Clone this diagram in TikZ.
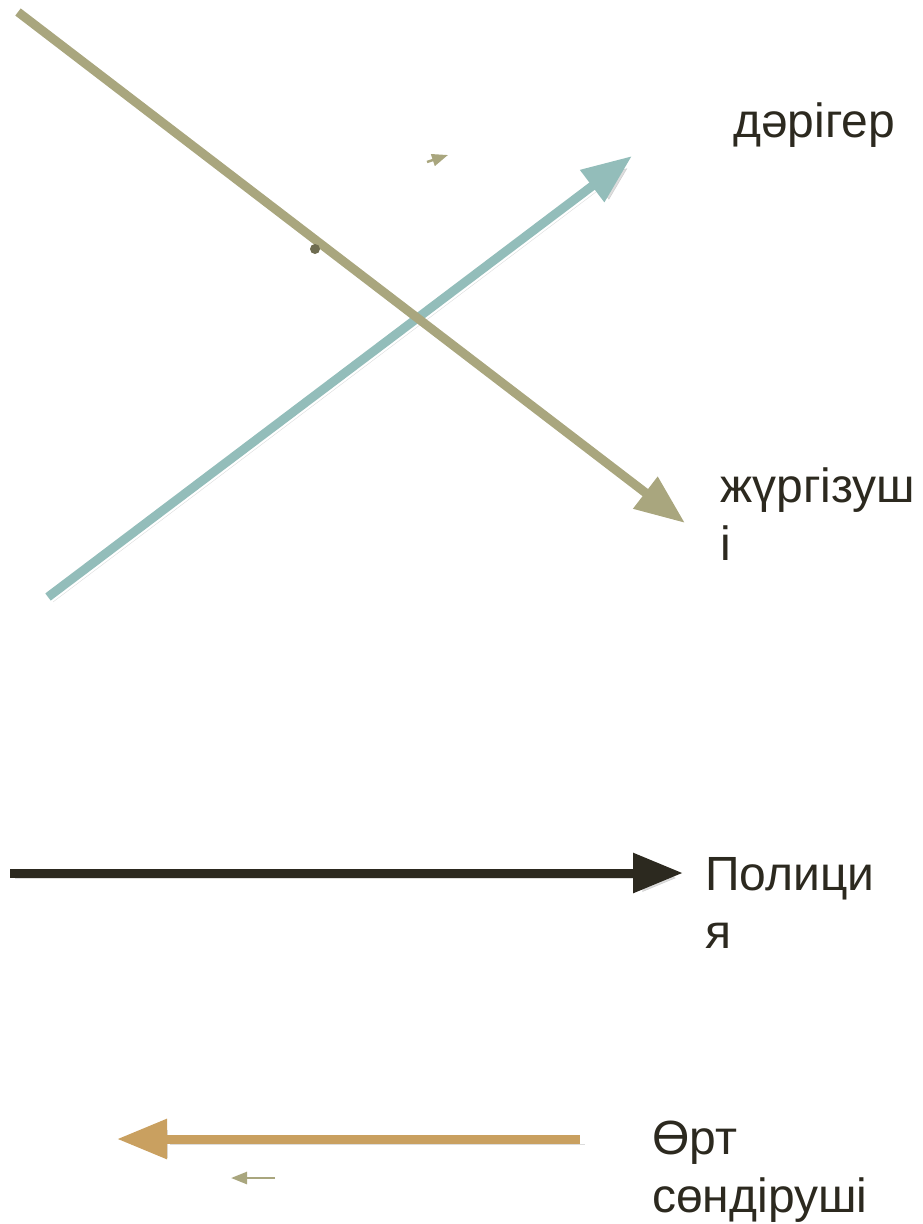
\documentclass[tikz,border=0pt]{standalone}
\usepackage{fontspec}
\setmainfont{Liberation Sans}
\usetikzlibrary{arrows.meta}
\definecolor{khakiline}{HTML}{A9A67E}
\definecolor{tealline}{HTML}{93BDBA}
\definecolor{inkdark}{HTML}{2C291F}
\definecolor{tanline}{HTML}{C9A060}
\definecolor{dotdark}{HTML}{6E6C50}

\begin{document}
\begin{tikzpicture}[x=1pt, y=-1pt,
  every node/.style={font=\fontsize{48}{58}\selectfont, text=inkdark, inner sep=0pt, align=left},
  ray/.style={line width=9pt, -{Triangle[length=50pt,width=38pt]}},
  shade/.style={preaction={draw=black!45, opacity=.3, transform canvas={shift={(5pt,-5pt)}}}},
  tiny/.style={line width=2.5pt, -{Triangle[length=16pt,width=12pt]}}]
  \useasboundingbox (0,0) rectangle (923,1224);

  % arrow ends
  \coordinate (nurse tail) at (48,597);
  \coordinate (nurse tip)  at (632,156);
  \coordinate (drive tail) at (18,12);
  \coordinate (drive tip)  at (685,523);
  \coordinate (cop tail)   at (10,873);
  \coordinate (cop tip)    at (683,873);
  \coordinate (fire tail)  at (580,1139);
  \coordinate (fire tip)   at (117,1139);
  \coordinate (mark tail)  at (427,162);
  \coordinate (mark tip)   at (448,155);
  \coordinate (back tail)  at (275,1178);
  \coordinate (back tip)   at (231,1178);

  % labels (base = last line)
  \node[anchor=base west] (doctor) at (733,137) {дәрігер};
  \node[anchor=base west] (driver) at (720,560) {жүргізуш\\і};
  \node[anchor=base west] (police) at (705,948) {Полици\\я};
  \node[anchor=base west] (firemen) at (652,1212) {Өрт\\сөндіруші};

  \draw[ray, shade, tealline] (nurse tail) -- (nurse tip);
  \draw[ray, shade, khakiline] (drive tail) -- (drive tip);
  \draw[ray, shade, inkdark] (cop tail) -- (cop tip);
  \draw[ray, shade, tanline] (fire tail) -- (fire tip);

  \draw[tiny, khakiline] (mark tail) -- (mark tip);
  \draw[tiny, khakiline] (back tail) -- (back tip);
  \fill[dotdark] (315,249) circle (5);
\end{tikzpicture}
\end{document}
